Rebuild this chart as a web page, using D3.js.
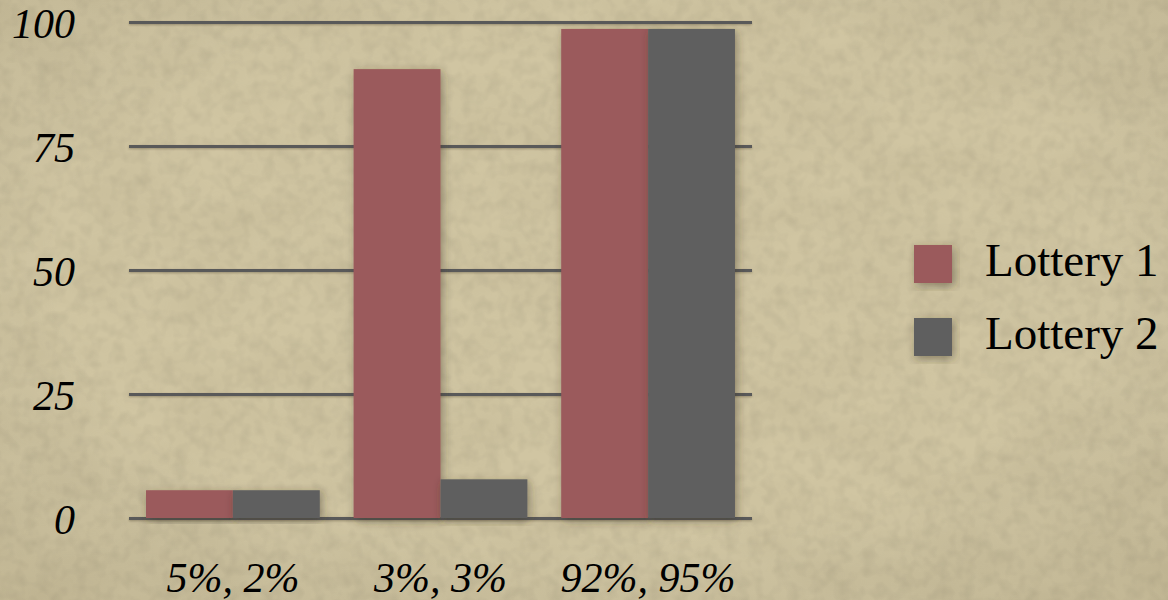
<!DOCTYPE html>
<html>
<head>
<meta charset="utf-8">
<script src="https://cdn.jsdelivr.net/npm/d3@7"></script>
<style>
  body { margin: 0; background: #cfc4a1; }
  svg { display: block; }
</style>
</head>
<body>
<script>
// data
var categories = ["5%, 2%", "3%, 3%", "92%, 95%"];
var series = ["Lottery 1", "Lottery 2"];
var lottery1 = [5.6, 90.5, 98.6];
var lottery2 = [5.6, 7.8, 98.6];
var yTicks = [0, 25, 50, 75, 100];

var colors = ["#9b5a5b", "#5f5f5f"];

var W = 1168, H = 600;
var plot = {left: 129, right: 752, top: 22, bottom: 518};

var svg = d3.select("body").append("svg")
  .attr("width", W)
  .attr("height", H);

var defs = svg.append("defs");

// paper texture
var noise = defs.append("filter").attr("id", "paper")
  .attr("x", 0).attr("y", 0).attr("width", "100%").attr("height", "100%");
noise.append("feTurbulence")
  .attr("type", "fractalNoise")
  .attr("baseFrequency", "0.012 0.02")
  .attr("numOctaves", 4)
  .attr("seed", 7)
  .attr("result", "n");
noise.append("feColorMatrix")
  .attr("type", "matrix")
  .attr("values", "0 0 0 0 0.35  0 0 0 0 0.3  0 0 0 0 0.18  0 0 0 -1.1 0.75");

var fine = defs.append("filter").attr("id", "grain")
  .attr("x", 0).attr("y", 0).attr("width", "100%").attr("height", "100%");
fine.append("feTurbulence")
  .attr("type", "fractalNoise")
  .attr("baseFrequency", 0.08)
  .attr("numOctaves", 2)
  .attr("seed", 3);
fine.append("feColorMatrix")
  .attr("type", "matrix")
  .attr("values", "0 0 0 0 0  0 0 0 0 0  0 0 0 0 0  0 0 0 -0.9 0.55");

var shadow = defs.append("filter").attr("id", "shadow")
  .attr("x", "-20%").attr("y", "-20%").attr("width", "140%").attr("height", "140%");
shadow.append("feDropShadow")
  .attr("dx", 2).attr("dy", 3)
  .attr("stdDeviation", 5)
  .attr("flood-color", "#3a3020")
  .attr("flood-opacity", 0.45);

var vig = defs.append("radialGradient").attr("id", "vig")
  .attr("cx", "50%").attr("cy", "45%").attr("r", "75%");
vig.append("stop").attr("offset", "60%").attr("stop-color", "#000").attr("stop-opacity", 0);
vig.append("stop").attr("offset", "100%").attr("stop-color", "#4a3a1a").attr("stop-opacity", 0.1);

svg.append("rect").attr("width", W).attr("height", H).attr("fill", "#d0c5a2");
svg.append("rect").attr("width", W).attr("height", H).attr("filter", "url(#paper)").attr("opacity", 0.2);
svg.append("rect").attr("width", W).attr("height", H).attr("filter", "url(#grain)").attr("opacity", 0.12);
svg.append("rect").attr("width", W).attr("height", H).attr("fill", "url(#vig)");

// scales
var x0 = d3.scaleBand()
  .domain(categories)
  .range([plot.left, plot.right])
  .paddingInner(0.163)
  .paddingOuter(0.082);

var x1 = d3.scaleBand()
  .domain(series)
  .range([0, x0.bandwidth()]);

var y = d3.scaleLinear()
  .domain([0, 100])
  .range([plot.bottom, plot.top]);

var color = d3.scaleOrdinal().domain(series).range(colors);

// gridlines + y labels
var yAxis = svg.append("g")
  .attr("transform", "translate(" + plot.left + ",0)")
  .call(d3.axisLeft(y).tickValues(yTicks).tickSize(-(plot.right - plot.left)).tickPadding(54));
yAxis.select(".domain").remove();
yAxis.selectAll(".tick line")
  .attr("stroke", "#595959")
  .attr("stroke-width", 3)
  .style("filter", "drop-shadow(0px 1px 1px rgba(60,50,30,0.35))");
yAxis.selectAll(".tick text")
  .attr("dy", "0.36em")
  .attr("fill", "#000")
  .style("font-family", "'Liberation Serif', 'Times New Roman', serif")
  .style("font-style", "italic")
  .style("font-size", "42px");

// bars
var rows = categories.map(function (c, i) {
  return {cat: c, vals: [{s: series[0], v: lottery1[i]}, {s: series[1], v: lottery2[i]}]};
});

var groups = svg.append("g").selectAll("g")
  .data(rows)
  .enter().append("g")
  .attr("transform", function (d) { return "translate(" + x0(d.cat) + ",0)"; });

groups.selectAll("rect")
  .data(function (d) { return d.vals; })
  .enter().append("rect")
  .attr("x", function (d) { return x1(d.s); })
  .attr("y", function (d) { return y(d.v); })
  .attr("width", x1.bandwidth())
  .attr("height", function (d) { return y(0) - y(d.v); })
  .attr("fill", function (d) { return color(d.s); })
  .attr("filter", "url(#shadow)");

// x labels
var xAxis = svg.append("g")
  .attr("transform", "translate(0," + plot.bottom + ")")
  .call(d3.axisBottom(x0).tickSize(0).tickPadding(44));
xAxis.select(".domain").remove();
xAxis.selectAll(".tick text")
  .attr("fill", "#000")
  .style("font-family", "'Liberation Serif', 'Times New Roman', serif")
  .style("font-style", "italic")
  .style("font-size", "42px");

// legend
var legend = svg.append("g").selectAll("g")
  .data(series)
  .enter().append("g")
  .attr("transform", function (d, i) { return "translate(914," + (245 + i * 73) + ")"; });

legend.append("rect")
  .attr("width", 38)
  .attr("height", 38)
  .attr("fill", function (d) { return color(d); })
  .attr("filter", "url(#shadow)");

legend.append("text")
  .attr("x", 71)
  .attr("y", 31)
  .text(function (d) { return d; })
  .attr("fill", "#000")
  .style("font-family", "'Liberation Serif', 'Times New Roman', serif")
  .style("font-size", "47px");
</script>
</body>
</html>
